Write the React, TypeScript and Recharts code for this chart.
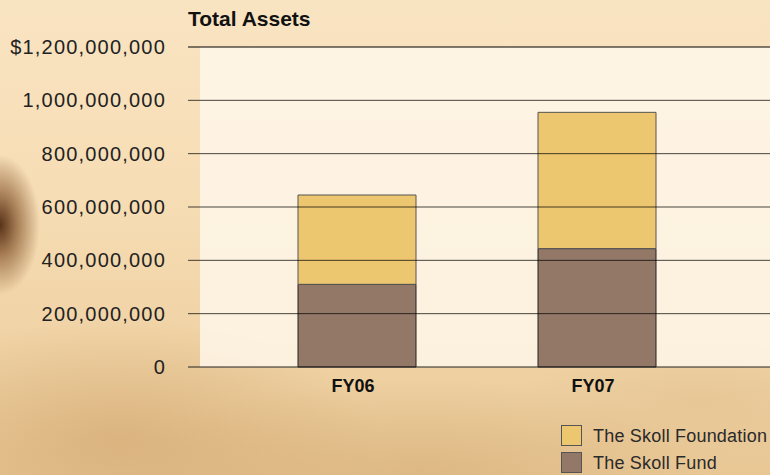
import React from "react";
import { BarChart, Bar, XAxis, YAxis, ReferenceLine } from "recharts";

const categories = ["FY06", "FY07"];
const skollFund = [310000000, 444000000];
const skollFoundation = [335000000, 511000000];
const yTicks = [0, 200000000, 400000000, 600000000, 800000000, 1000000000, 1200000000];
const seriesNames = ["The Skoll Foundation", "The Skoll Fund"];
const seriesColors = ["#ecc770", "#937868"];
const title = "Total Assets";

const data = categories.map((c, i) => ({
  name: c,
  fund: skollFund[i],
  foundation: skollFoundation[i],
}));

const fmt = (v: number) => {
  const s = Number(v).toLocaleString("en-US");
  return v === yTicks[yTicks.length - 1] ? "$" + s : s;
};

const FONT = "'Liberation Sans', Arial, sans-serif";

export default function App() {
  return (
    <div
      style={{
        position: "absolute",
        left: 0,
        top: 0,
        width: 770,
        height: 475,
        overflow: "hidden",
        fontFamily: FONT,
        background:
          "radial-gradient(ellipse 40px 70px at 0px 225px, rgba(80,40,15,0.95), rgba(120,70,30,0.6) 45%, rgba(200,150,90,0) 100%)," +
          "radial-gradient(ellipse 260px 120px at 120px 440px, rgba(205,160,105,0.55), rgba(220,180,130,0) 100%)," +
          "radial-gradient(ellipse 300px 90px at 420px 470px, rgba(210,170,115,0.5), rgba(220,180,130,0) 100%)," +
          "radial-gradient(ellipse 180px 60px at 700px 400px, rgba(225,190,140,0.45), rgba(220,180,130,0) 100%)," +
          "linear-gradient(180deg, #f9e4c2 0%, #f6dcb3 45%, #eed0a1 80%, #e8c795 100%)",
      }}
    >
      <div
        style={{
          position: "absolute",
          left: 200,
          top: 47,
          width: 570,
          height: 320,
          background: "rgba(255,248,236,0.82)",
        }}
      />
      <div
        style={{
          position: "absolute",
          left: 188,
          top: 8,
          fontSize: 21,
          fontWeight: "bold",
          color: "#111",
          lineHeight: "21px",
          whiteSpace: "nowrap",
        }}
      >
        {title}
      </div>
      <div style={{ position: "absolute", left: 0, top: 0 }}>
        <BarChart
          width={770}
          height={475}
          data={data}
          margin={{ top: 47, right: 0, bottom: 0, left: 0 }}
        >
          <XAxis
            dataKey="name"
            height={108}
            padding={{ left: 49, right: 53 }}
            tickLine={false}
            tickSize={0}
            tickMargin={12}
            axisLine={{ stroke: "#222", strokeWidth: 1 }}
            tick={{ fontSize: 18, fontWeight: "bold", fill: "#111", fontFamily: FONT, dx: -4 }}
          />
          <YAxis
            width={188}
            domain={[0, 1200000000]}
            ticks={yTicks}
            tickFormatter={fmt}
            axisLine={false}
            tickLine={false}
            tickSize={0}
            tickMargin={22}
            tick={{ fontSize: 20, fill: "#222", fontFamily: FONT, style: { letterSpacing: "1.2px" } }}
          />
          <Bar
            dataKey="fund"
            stackId="a"
            fill={seriesColors[1]}
            stroke="#222"
            strokeWidth={1}
            barSize={118}
            isAnimationActive={false}
          />
          <Bar
            dataKey="foundation"
            stackId="a"
            fill={seriesColors[0]}
            stroke="#555"
            strokeWidth={1}
            barSize={118}
            isAnimationActive={false}
          />
          {yTicks.slice(1).map((t) => (
            <ReferenceLine
              key={t}
              y={t}
              stroke="#000"
              strokeOpacity={t === yTicks[yTicks.length - 1] ? 1 : 0.72}
              strokeWidth={1}
            />
          ))}
        </BarChart>
      </div>
      <div style={{ position: "absolute", left: 561, top: 422 }}>
        {seriesNames.map((n, i) => (
          <div
            key={n}
            style={{ display: "flex", alignItems: "center", height: 27, whiteSpace: "nowrap" }}
          >
            <div
              style={{
                width: 19,
                height: 19,
                background: seriesColors[i],
                border: "1px solid #555",
                marginRight: 11,
                flexShrink: 0,
              }}
            />
            <span
              style={{ fontSize: 18, lineHeight: "18px", color: "#2a2a2a", letterSpacing: "0.2px" }}
            >
              {n}
            </span>
          </div>
        ))}
      </div>
    </div>
  );
}
